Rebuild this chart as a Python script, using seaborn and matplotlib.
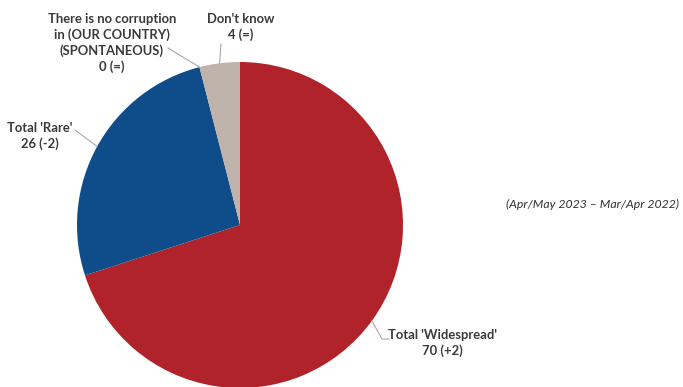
import matplotlib
matplotlib.use("Agg")
import matplotlib.pyplot as plt
import seaborn as sns
import numpy as np

# Survey shares (%) and change vs previous wave
categories = ["Total 'Widespread'", "Total 'Rare'",
              "There is no corruption\nin (OUR COUNTRY)\n(SPONTANEOUS)", "Don't know"]
values = [70, 26, 0, 4]
changes = ["+2", "-2", "=", "="]
colors = ["#B0232A", "#0E4D8A", "#BFB3AC", "#BFB3AC"]
period_note = "(Apr/May 2023 \u2013 Mar/Apr 2022)"

sns.set_theme(style="white")
plt.rcParams["font.family"] = ["Lato", "DejaVu Sans"]

W, H = 683, 387
fig = plt.figure(figsize=(W / 100, H / 100), dpi=100)
ax = fig.add_axes([0, 0, 1, 1])

cx, cy, r = 240, H - 225, 163
wedges, _ = ax.pie(values, colors=colors, startangle=90, counterclock=False,
                   center=(cx, cy), radius=r, frame=True,
                   wedgeprops=dict(linewidth=0))
ax.set_xlim(0, W)
ax.set_ylim(0, H)
ax.set_aspect("equal")
ax.axis("off")

# label centre of first line (image coords), leader elbow points
label_pos = [(442, 334), (40, 127), (112, 18), (241, 18)]
leader_end = [[(382, 339), (389, 339)], [(75, 130)], [(168, 48)], [(221, 44)]]

txt_color = "#3A3A3A"
for w, cat, v, ch, (lx, ly), pts in zip(wedges, categories, values, changes, label_pos, leader_end):
    ang = np.deg2rad((w.theta1 + w.theta2) / 2)
    px, py = cx + r * np.cos(ang), cy + r * np.sin(ang)
    xs = [px] + [p[0] for p in pts]
    ys = [py] + [H - p[1] for p in pts]
    ax.plot(xs, ys, color="#A8A8A8", lw=0.8)
    ax.text(lx, H - ly + 5, f"{cat}\n{v} ({ch})", ha="center", va="top", color=txt_color,
            fontsize=9.4, fontweight="bold", linespacing=1.3)

ax.text(506, H - 204, period_note, ha="left", va="center", fontsize=8.8,
        style="italic", color="#303030")

fig.savefig("out.png", dpi=100)
